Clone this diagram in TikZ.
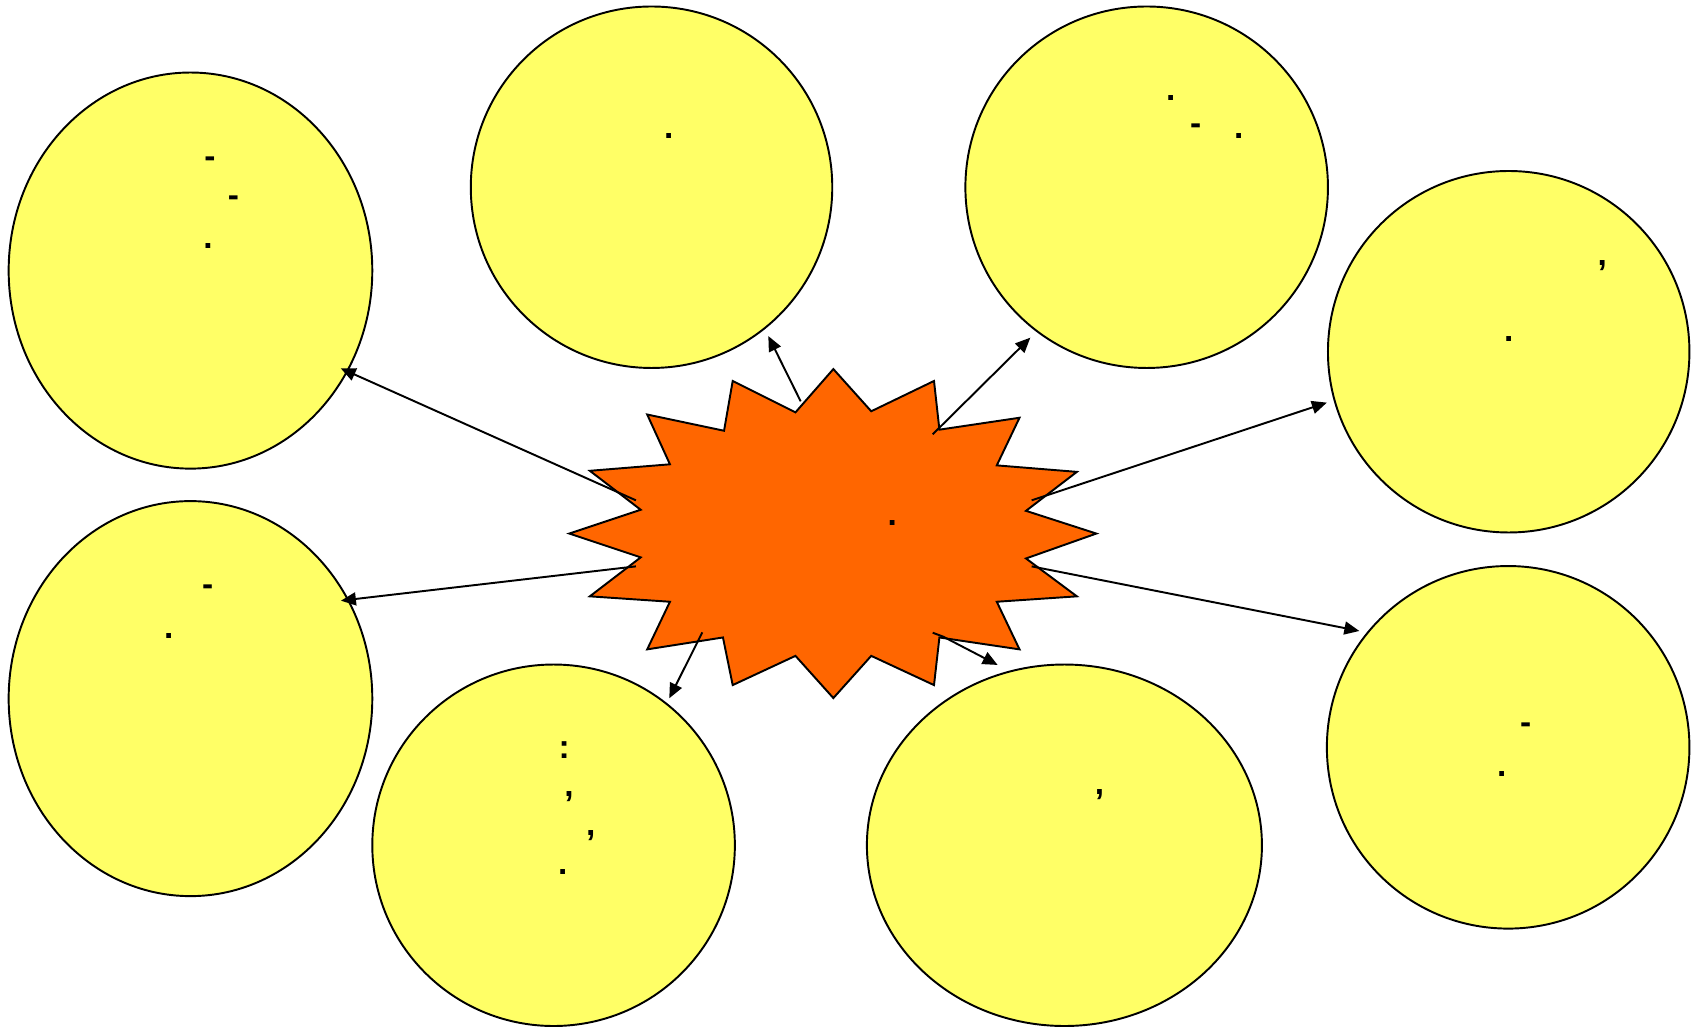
\documentclass[tikz,border=0pt]{standalone}
\usepackage{fontspec}
\setmainfont{Liberation Sans}
\usetikzlibrary{shapes.geometric,arrows.meta}
\definecolor{pale}{HTML}{FFFF66}
\definecolor{burst}{HTML}{FF6600}
\def\px{0.021646cm}
\tikzset{
  bubble/.style={ellipse,draw=black,fill=pale,line width=1.1pt,inner sep=0pt},
  glyph/.style={inner sep=0pt,font=\fontsize{19}{21}\selectfont\bfseries},
  link/.style={line width=1.1pt,-{Triangle[length=0.3cm,width=0.26cm]}},
}
\begin{document}
\begin{tikzpicture}[x=\px,y=-\px]
\path[use as bounding box] (0,0) rectangle (1568,953);
% bubbles
\node[bubble,minimum width=336*\px,minimum height=366*\px] (c1) at (176,250) {};
\node[bubble,minimum width=334*\px,minimum height=334*\px] (c2) at (602,173) {};
\node[bubble,minimum width=335*\px,minimum height=334*\px] (c3) at (1059.5,173) {};
\node[bubble,minimum width=334*\px,minimum height=334*\px] (c4) at (1394,325) {};
\node[bubble,minimum width=336*\px,minimum height=365*\px] (c5) at (176,645.5) {};
\node[bubble,minimum width=335*\px,minimum height=334*\px] (c6) at (511.5,781) {};
\node[bubble,minimum width=365*\px,minimum height=334*\px] (c7) at (983.5,781) {};
\node[bubble,minimum width=335*\px,minimum height=335*\px] (c8) at (1393.5,690.5) {};
% starburst
\draw[fill=burst,line width=1.1pt,line join=miter]
 (770,341)--(805,380)--(863,352)--(868,397)--(942,386)--(921,430)--(995,436)--(948,472)
 --(1013,493)--(948,516)--(995,551)--(921,556)--(942,600)--(868,589)--(863,633)--(805,606)
 --(770,645)--(735,606)--(677,633)--(668,589)--(598,600)--(619,556)--(545,551)--(592,515)
 --(526,493)--(592,471)--(545,435)--(619,429)--(598,383)--(669,398)--(677,352)--(735,381)--cycle;
% texts
\node[glyph] (t1a) at (194,149.7) {-};
\node[glyph] (t1b) at (215.6,185.7) {-};
\node[glyph] (t1c) at (192.2,227.3) {.};
\node[glyph] (t2a) at (618,126) {.};
\node[glyph] (t3a) at (1081.7,90.5) {.};
\node[glyph] (t3b) at (1104.8,119.2) {-};
\node[glyph] (t3c) at (1144.5,125.7) {.};
\node[glyph] (t4a) at (1480.5,245.5) {,};
\node[glyph] (t4b) at (1394,313) {.};
\node[glyph] (t5a) at (192,545) {-};
\node[glyph] (t5b) at (156,588) {.};
\node[glyph] (t6a) at (521.4,693) {:};
\node[glyph] (t6b) at (525.7,736.1) {,};
\node[glyph] (t6c) at (545.8,772.4) {,};
\node[glyph] (t6d) at (519.9,806) {.};
\node[glyph] (t7a) at (1016,734) {,};
\node[glyph] (t8a) at (1409.7,672.6) {-};
\node[glyph] (t8b) at (1387.5,715.2) {.};
\node[glyph] (t0) at (824.5,483.5) {.};
% connector ends
\coordinate (s1) at (587.6,462.3); \coordinate (e1) at (314.8,340.3);
\coordinate (s2) at (739.8,370.8); \coordinate (e2) at (709.9,310.5);
\coordinate (s3) at (861.8,401.3); \coordinate (e3) at (952,312);
\coordinate (s4) at (953.2,462.3); \coordinate (e4) at (1226,372);
\coordinate (s5) at (587.6,523.3); \coordinate (e5) at (315,555);
\coordinate (s6) at (648.9,584.3); \coordinate (e6) at (618.4,645.2);
\coordinate (s7) at (861.8,584.6); \coordinate (k7) at (871.6,588.3); \coordinate (e7) at (921.8,614.4);
\coordinate (s8) at (953.2,523.3); \coordinate (e8) at (1256,583);
\draw[link] (s1) -- (e1);
\draw[link] (s2) -- (e2);
\draw[link] (s3) -- (e3);
\draw[link] (s4) -- (e4);
\draw[link] (s5) -- (e5);
\draw[link] (s6) -- (e6);
\draw[link] (s7) -- (k7) -- (e7);
\draw[link] (s8) -- (e8);
\end{tikzpicture}
\end{document}
